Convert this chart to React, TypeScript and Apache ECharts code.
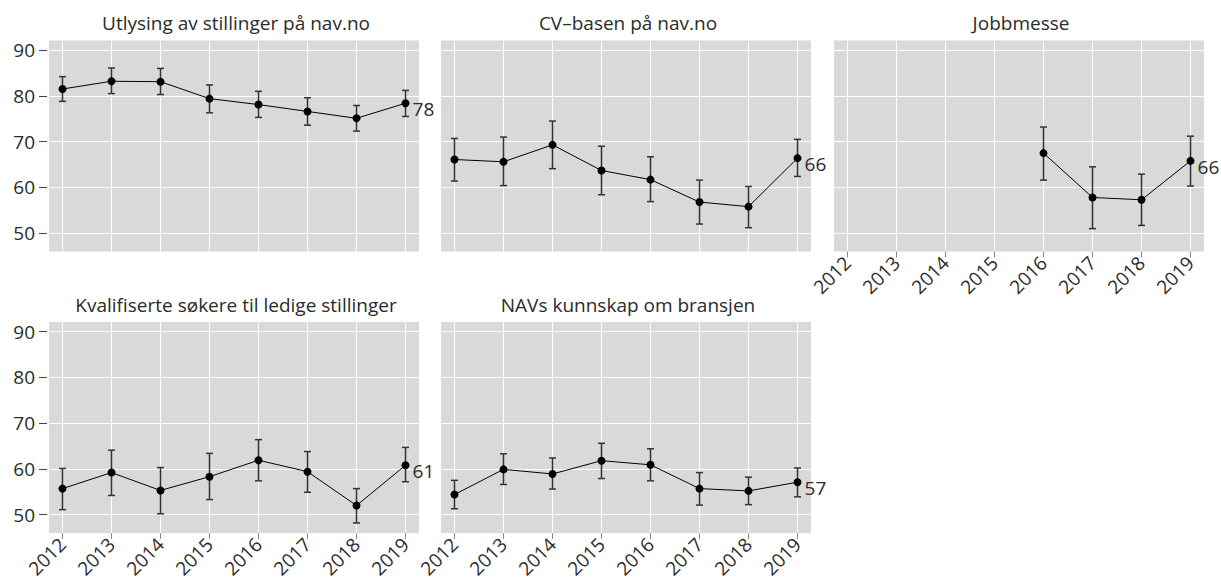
import React, { useEffect, useRef } from 'react';
import * as echarts from 'echarts';

const years = [2012, 2013, 2014, 2015, 2016, 2017, 2018, 2019];
const yTicks = [50, 60, 70, 80, 90];

const titles = [
  'Utlysing av stillinger på nav.no',
  'CV–basen på nav.no',
  'Jobbmesse',
  'Kvalifiserte søkere til ledige stillinger',
  'NAVs kunnskap om bransjen',
];

const utlysingMean = [81.5, 83.2, 83.1, 79.4, 78.1, 76.6, 75.1, 78.4];
const utlysingLow = [78.8, 80.5, 80.3, 76.3, 75.3, 73.6, 72.3, 75.5];
const utlysingHigh = [84.2, 86.1, 86.0, 82.4, 81.0, 79.6, 77.9, 81.2];

const cvMean = [66.1, 65.6, 69.3, 63.7, 61.7, 56.8, 55.8, 66.4];
const cvLow = [61.4, 60.4, 64.1, 58.4, 56.9, 52.0, 51.2, 62.4];
const cvHigh = [70.7, 71.0, 74.5, 69.0, 66.7, 61.6, 60.2, 70.5];

const jobbMean = [null, null, null, null, 67.5, 57.8, 57.3, 65.8];
const jobbLow = [null, null, null, null, 61.6, 51.0, 51.7, 60.3];
const jobbHigh = [null, null, null, null, 73.2, 64.5, 62.9, 71.2];

const kvalMean = [55.7, 59.2, 55.3, 58.3, 61.9, 59.4, 52.0, 60.8];
const kvalLow = [51.1, 54.2, 50.2, 53.3, 57.4, 54.9, 48.2, 57.2];
const kvalHigh = [60.1, 64.1, 60.3, 63.4, 66.4, 63.8, 55.7, 64.7];

const navMean = [54.4, 59.9, 58.9, 61.8, 60.9, 55.7, 55.2, 57.1];
const navLow = [51.3, 56.6, 55.6, 57.9, 57.4, 52.1, 52.2, 53.9];
const navHigh = [57.5, 63.3, 62.4, 65.6, 64.4, 59.2, 58.2, 60.2];

const panelsData = [
  { mean: utlysingMean, low: utlysingLow, high: utlysingHigh },
  { mean: cvMean, low: cvLow, high: cvHigh },
  { mean: jobbMean, low: jobbLow, high: jobbHigh },
  { mean: kvalMean, low: kvalLow, high: kvalHigh },
  { mean: navMean, low: navLow, high: navHigh },
];

// layout (pixels)
const layout = [
  { left: 49, top: 40.5, showY: true, showX: false },
  { left: 441, top: 40.5, showY: false, showX: false },
  { left: 834, top: 40.5, showY: false, showX: true },
  { left: 49, top: 322, showY: true, showX: true },
  { left: 441, top: 322, showY: false, showX: true },
];
const W = 370;
const H = 211;
const FONT = 'Open Sans';
const TEXT = '#2b2b2b';

export default function App() {
  const ref = useRef<HTMLDivElement>(null);
  useEffect(() => {
    document.body.style.margin = '0';
    if (!ref.current) return;
    const chart = echarts.init(ref.current, null, { renderer: 'svg' });

    const grid = layout.map((l) => ({
      left: l.left,
      top: l.top,
      width: W,
      height: H,
      show: true,
      backgroundColor: '#d9d9d9',
      borderWidth: 0,
      containLabel: false,
    }));

    const title = layout.map((l, i) => ({
      text: titles[i],
      left: l.left + W / 2 + 2,
      top: l.top - 27,
      textAlign: 'center',
      padding: 0,
      textStyle: { fontFamily: FONT, fontSize: 19, fontWeight: 'normal', color: TEXT },
    }));

    const xAxis = layout.map((l, i) => ({
      type: 'value',
      gridIndex: i,
      min: 2011.725,
      max: 2019.275,
      axisLine: { show: false },
      axisTick: {
        show: l.showX,
        customValues: years,
        length: 6,
        lineStyle: { color: '#888888', width: 1 },
      },
      axisLabel: {
        show: l.showX,
        customValues: years,
        rotate: 45,
        margin: 8,
        fontFamily: FONT,
        fontSize: 19,
        color: TEXT,
        formatter: (v: number) => String(v),
      },
      splitLine: { show: true, lineStyle: { color: '#ffffff', width: 1 } },
    }));

    const yAxis = layout.map((l, i) => ({
      type: 'value',
      gridIndex: i,
      min: 46,
      max: 92.1,
      axisLine: { show: false },
      offset: 2,
      axisTick: {
        show: l.showY,
        customValues: yTicks,
        length: 8,
        lineStyle: { color: '#444444', width: 1 },
      },
      axisLabel: {
        show: l.showY,
        customValues: yTicks,
        margin: 12,
        fontFamily: FONT,
        fontSize: 19,
        color: TEXT,
      },
      splitLine: { show: true, lineStyle: { color: '#ffffff', width: 1 } },
    }));

    const series: any[] = [];
    panelsData.forEach((p, i) => {
      const errData: any[] = [];
      const lineData: any[] = [];
      years.forEach((yr, k) => {
        if (p.mean[k] == null) return;
        errData.push([yr, p.low[k], p.high[k]]);
      });
      const lastIdx = years.length - 1;
      years.forEach((yr, k) => {
        if (p.mean[k] == null) return;
        if (k === lastIdx) {
          lineData.push({
            value: [yr, p.mean[k]],
            label: {
              show: true,
              position: 'right',
              distance: 3,
              offset: [0, 6],
              fontFamily: FONT,
              fontSize: 19,
              color: TEXT,
              formatter: () => String(Math.round(p.mean[k] as number)),
            },
          });
        } else {
          lineData.push([yr, p.mean[k]]);
        }
      });
      series.push({
        type: 'custom',
        xAxisIndex: i,
        yAxisIndex: i,
        z: 3,
        data: errData,
        encode: { x: 0, y: [1, 2] },
        renderItem: (params: any, api: any) => {
          const x = api.value(0);
          const lo = api.coord([x, api.value(1)]);
          const hi = api.coord([x, api.value(2)]);
          const hw = 3.5;
          const style = { stroke: '#333333', lineWidth: 1.5 };
          return {
            type: 'group',
            children: [
              { type: 'line', shape: { x1: lo[0], y1: lo[1], x2: hi[0], y2: hi[1] }, style },
              { type: 'line', shape: { x1: lo[0] - hw, y1: lo[1], x2: lo[0] + hw, y2: lo[1] }, style },
              { type: 'line', shape: { x1: hi[0] - hw, y1: hi[1], x2: hi[0] + hw, y2: hi[1] }, style },
            ],
          };
        },
      });
      series.push({
        type: 'line',
        xAxisIndex: i,
        yAxisIndex: i,
        z: 4,
        data: lineData,
        symbol: 'circle',
        symbolSize: 8,
        itemStyle: { color: '#000000' },
        lineStyle: { color: '#000000', width: 1 },
        label: { show: false },
      });
    });

    chart.setOption({
      animation: false,
      backgroundColor: '#ffffff',
      title,
      grid,
      xAxis,
      yAxis,
      series,
    });
    return () => chart.dispose();
  }, []);
  return <div ref={ref} style={{ width: 1221, height: 581 }} />;
}
